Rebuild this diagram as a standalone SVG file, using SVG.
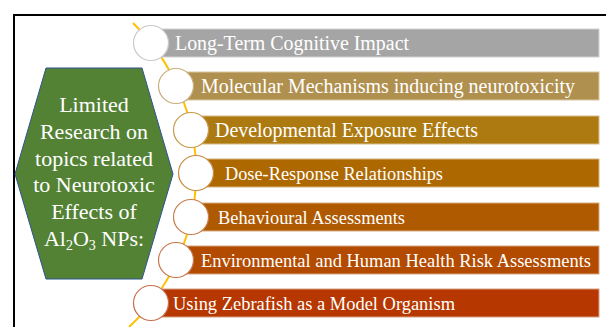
<svg xmlns="http://www.w3.org/2000/svg" width="606" height="327" viewBox="0 0 606 327">
  <style>
    .frame { fill: #ffffff; stroke: #000000; stroke-width: 2; }
    .spine { fill: none; stroke: #FFC000; stroke-width: 2; }
    .bar { stroke-width: 1; }
    .dot { fill: #ffffff; stroke-width: 1.2; }
    .lbl { font-family: "Liberation Serif", "Times New Roman", serif; font-size: 20px; fill: #ffffff; }
    .sm { font-size: 19.4px; }
    .md { font-size: 19.3px; }
    .xs { font-size: 18.4px; }
    .hex { fill: #548235; stroke: #2F528F; stroke-width: 1; }
    .htxt { font-family: "Liberation Serif", "Times New Roman", serif; font-size: 22px; fill: #ffffff; text-anchor: middle; }
  </style>

  <rect x="0" y="0" width="606" height="327" fill="#ffffff"/>
  <rect class="frame" x="14" y="15" width="600" height="330"/>

  <!-- curved spine running through the circles -->
  <g id="connectors">
    <path class="spine" d="M133,23 A210,210 0 0,1 129,327"/>
  </g>

  <!-- central hexagon -->
  <g id="topic">
    <polygon class="hex" points="46,68 142,68 173,174 142,279 46,279 15,174"/>
    <text class="htxt" x="94" y="112">Limited</text>
    <text class="htxt" x="94" y="139">Research on</text>
    <text class="htxt" x="94" y="165.5">topics related</text>
    <text class="htxt" x="94" y="192">to Neurotoxic</text>
    <text class="htxt" x="94" y="219">Effects of</text>
    <text class="htxt" x="94" y="246">Al<tspan font-size="14" dy="4">2</tspan><tspan dy="-4">O</tspan><tspan font-size="14" dy="4">3</tspan><tspan dy="-4"> NPs:</tspan></text>
  </g>

  <g id="item1">
    <rect class="bar" x="151" y="29" width="448" height="28" fill="#A5A5A5" stroke="#D2D2D2"/>
    <circle class="dot" cx="151" cy="43" r="17.5" stroke="#C9C9C9"/>
    <text class="lbl" x="175" y="50" textLength="234" lengthAdjust="spacingAndGlyphs">Long-Term Cognitive Impact</text>
  </g>

  <g id="item2">
    <rect class="bar" x="176" y="72" width="423" height="28" fill="#B0904F" stroke="#D8C6A2"/>
    <circle class="dot" cx="176" cy="86" r="17.5" stroke="#C8AE7A"/>
    <text class="lbl" x="201" y="93" textLength="374" lengthAdjust="spacingAndGlyphs">Molecular Mechanisms inducing neurotoxicity</text>
  </g>

  <g id="item3">
    <rect class="bar" x="191" y="116" width="408" height="28" fill="#AD7A12" stroke="#D8BC88"/>
    <circle class="dot" cx="191" cy="130" r="17.5" stroke="#C89A4A"/>
    <text class="lbl" x="215" y="137" textLength="263" lengthAdjust="spacingAndGlyphs">Developmental Exposure Effects</text>
  </g>

  <g id="item4">
    <rect class="bar" x="196" y="159" width="403" height="28" fill="#AE6800" stroke="#D8B47E"/>
    <circle class="dot" cx="196" cy="173" r="17.5" stroke="#C98A3E"/>
    <text class="lbl sm" x="225" y="180" textLength="218" lengthAdjust="spacingAndGlyphs">Dose-Response Relationships</text>
  </g>

  <g id="item5">
    <rect class="bar" x="191" y="203" width="408" height="28" fill="#AF5900" stroke="#D8AC80"/>
    <circle class="dot" cx="191" cy="217" r="17.5" stroke="#C97E4A"/>
    <text class="lbl sm" x="218" y="224" textLength="187" lengthAdjust="spacingAndGlyphs">Behavioural Assessments</text>
  </g>

  <g id="item6">
    <rect class="bar" x="176" y="246" width="423" height="28" fill="#B24A00" stroke="#D8A680"/>
    <circle class="dot" cx="176" cy="260" r="17.5" stroke="#C9784E"/>
    <text class="lbl xs" x="201" y="267" textLength="390" lengthAdjust="spacingAndGlyphs">Environmental and Human Health Risk Assessments</text>
  </g>

  <g id="item7">
    <rect class="bar" x="151" y="289" width="448" height="28" fill="#B63800" stroke="#D89E80"/>
    <circle class="dot" cx="151" cy="303" r="17.5" stroke="#C96E4E"/>
    <text class="lbl md" x="173" y="310" textLength="282" lengthAdjust="spacingAndGlyphs">Using Zebrafish as a Model Organism</text>
  </g>
</svg>
